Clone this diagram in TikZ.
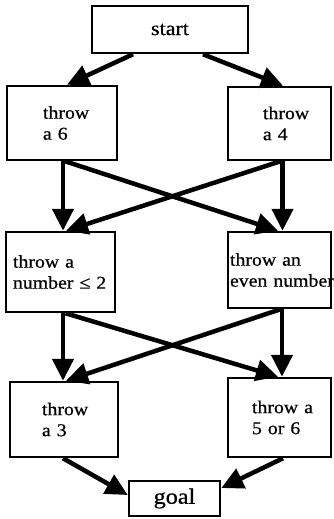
\documentclass[tikz,border=0pt]{standalone}
\usepackage{fontspec}
\setmainfont{Liberation Serif}[FakeStretch=1.1, FakeBold=0.6]
\usetikzlibrary{arrows.meta}

\begin{document}
\begin{tikzpicture}[x=1pt,y=-1pt,
  box/.style={draw, line width=2.5pt, align=left, inner ysep=0pt,
    font=\fontsize{18}{21}\selectfont},
  arr/.style={line width=4.5pt, -{Triangle[length=22pt,width=21pt]}}]
\useasboundingbox (0,0) rectangle (333,519);

% boxes: inner xsep sets the left indent of the text
\node[box, minimum width=156pt, minimum height=47pt, font=\fontsize{20}{22}\selectfont]
  (start) at (170,29.5) {start};
\node[box, minimum height=74pt, text width=38pt, inner xsep=36pt] (t6) at (62,123)
  {\mbox{throw}\\\mbox{a 6}};
\node[box, minimum height=73pt, text width=33pt, inner xsep=35pt] (t4) at (279.5,123.5)
  {\mbox{throw}\\\mbox{a 4}};
\node[box, minimum height=80pt, text width=95pt, inner xsep=7pt] (le2) at (60.5,272)
  {\mbox{throw a}\\\mbox{number ≤ 2}};
\node[box, minimum height=76pt, text width=99pt, inner xsep=2pt] (even) at (279.5,270)
  {\mbox{throw an}\\\mbox{even number}};
\node[box, minimum height=75pt, text width=44pt, inner xsep=32pt] (t3) at (64,419.5)
  {\mbox{throw}\\\mbox{a 3}};
\node[box, minimum height=79pt, text width=55pt, inner xsep=24pt] (t56) at (279.5,417.5)
  {\mbox{throw a}\\\mbox{5 or 6}};
\node[box, minimum width=91pt, minimum height=35pt, font=\fontsize{22}{24}\selectfont]
  (goal) at (174.5,498.5) {goal};

% connectors
\draw[arr] ([xshift=-37pt]start.south) -- ([xshift=5pt]t6.north);
\draw[arr] ([xshift=33pt]start.south) -- ([xshift=3.5pt]t4.north);

\draw[arr] ([xshift=1pt]t6.south) -- ([xshift=2.5pt]le2.north);
\draw[arr] ([xshift=3pt]t6.south) -- ([xshift=-1.5pt]even.north);
\draw[arr] ([xshift=3pt]t4.south) -- ([xshift=3pt]even.north);
\draw[arr] ([xshift=1pt]t4.south) -- ([xshift=5.5pt]le2.north);

\draw[arr] ([xshift=2.5pt]le2.south) -- ([xshift=-1pt]t3.north);
\draw[arr] ([xshift=5pt]le2.south) -- ([xshift=-1.5pt]t56.north);
\draw[arr] ([xshift=2.5pt]even.south) -- ([xshift=2.5pt]t56.north);
\draw[arr] ([xshift=1pt]even.south) -- ([xshift=2pt]t3.north);

\draw[arr] ([xshift=-1pt]t3.south) -- ([yshift=3.5pt]goal.west);
\draw[arr] ([xshift=3.5pt]t56.south) -- ([yshift=10.5pt]goal.east);
\end{tikzpicture}
\end{document}
